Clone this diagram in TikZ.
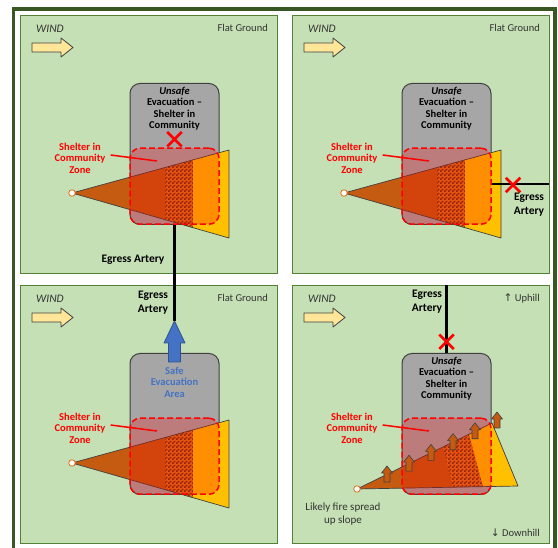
\documentclass[tikz,border=0pt]{standalone}
\usepackage{fontspec}
\setmainfont{Carlito}
\newfontfamily\arrowfont{DejaVu Sans}
\usetikzlibrary{positioning,patterns,shapes.misc}

\definecolor{panelfill}{HTML}{C5E0B4}
\definecolor{paneledge}{HTML}{548235}
\definecolor{framegreen}{HTML}{385723}
\definecolor{boxgray}{HTML}{A6A6A6}
\definecolor{boxedge}{HTML}{404040}
\definecolor{windfill}{HTML}{FFE699}
\definecolor{firebrown}{HTML}{C55A11}
\definecolor{fireorange}{HTML}{E0701A}
\definecolor{firedark}{HTML}{6B2E08}
\definecolor{fireyellow}{HTML}{FFC000}
\definecolor{safeblue}{HTML}{4472C4}
\definecolor{safeedge}{HTML}{2F528F}
\definecolor{labelgray}{HTML}{333333}

\pgfdeclarepatternformonly{smallchecker}{\pgfpointorigin}{\pgfqpoint{4pt}{4pt}}{\pgfqpoint{4pt}{4pt}}{%
  \pgfpathrectangle{\pgfpointorigin}{\pgfqpoint{2pt}{2pt}}%
  \pgfpathrectangle{\pgfqpoint{2pt}{2pt}}{\pgfqpoint{2pt}{2pt}}%
  \pgfusepath{fill}}

\tikzset{
  panel/.style={draw=paneledge,fill=panelfill,line width=1pt,anchor=north west,
    minimum width=257pt,minimum height=258pt,inner sep=0pt},
  windarrow/.style={draw=boxedge,fill=windfill,line width=0.8pt,line join=round},
  windlabel/.style={font=\fontsize{11.5}{12}\selectfont\itshape,text=labelgray},
  terrain/.style={font=\fontsize{10.5}{12}\selectfont,text=labelgray,anchor=east,inner sep=0pt},
  community/.style={draw=boxedge,fill=boxgray,line width=1pt,rounded corners=10pt,
    minimum width=89pt,minimum height=141pt,anchor=north,inner sep=0pt},
  boxtext/.style={font=\fontsize{10.5}{11.5}\selectfont\bfseries,align=center,inner sep=0pt},
  zone/.style={draw=red,fill=red,fill opacity=0.25,dash pattern=on 6pt off 3pt,line width=1.5pt,
    rounded corners=10pt,minimum width=89pt,minimum height=76pt,anchor=south,inner sep=0pt},
  zonetext/.style={font=\fontsize{10.5}{11.5}\selectfont\bfseries,text=red,align=center,inner sep=0pt},
  pointer/.style={draw=red,line width=1.5pt},
  egress/.style={draw=black,line width=2.2pt},
  egresstext/.style={font=\fontsize{11.5}{14}\selectfont\bfseries,align=center,inner sep=0pt},
  blocked/.style={cross out,draw=red,line width=2.5pt,minimum size=12pt,inner sep=0pt},
  fireedge/.style={draw=boxedge,line width=0.7pt,line join=round},
  ignition/.style={circle,draw=fireorange,fill=white,line width=0.8pt,minimum size=6.5pt,inner sep=0pt},
  checker/.style={fill=fireorange,postaction={pattern=smallchecker,pattern color=firedark}},
  uparrow/.style={draw=boxedge,fill=firebrown,line width=0.6pt,line join=round},
}

\begin{document}
\begin{tikzpicture}[x=1pt,y=-1pt]
  \useasboundingbox (0,0) rectangle (558,548);
  \fill[white] (0,0) rectangle (558,548);
  \draw[framegreen,line width=3.5pt] (13.5,9) rectangle (555,551);

  % four panels with wind and community block
  \foreach \i/\dx/\dy in {1/20/15,2/292/15,3/20/285,4/292/285}{
    \begin{scope}[shift={(\dx,\dy)}]
      \node[panel] (panel\i) at (0,0) {};
      \node[windlabel] (wind\i) at (30,14) {WIND};
      \draw[windarrow] (12,28) -- (41,28) -- (41,23) -- (53,32.5) -- (41,42) -- (41,37) -- (12,37) -- cycle;
      \node[community] (box\i) at (154.5,68) {};
    \end{scope}
  }

  % fire on flat ground
  \foreach \i/\dx/\dy in {1/20/15,2/292/15,3/20/285}{
    \begin{scope}[shift={(\dx,\dy)}]
      \coordinate (apex\i) at (52,178);
      \begin{scope}
        \clip (52,178) -- (209,135) -- (209,223) -- cycle;
        \fill[firebrown] (50,120) rectangle (145,240);
        \fill[checker] (145,120) rectangle (173,240);
        \fill[fireyellow] (173,120) rectangle (212,240);
      \end{scope}
      \draw[fireedge] (52,178) -- (209,135) -- (209,223) -- cycle;
      \node[ignition] (spark\i) at (apex\i) {};
      \node[terrain] (ground\i) at (248,13) {Flat Ground};
    \end{scope}
  }

  % fire running up the slope
  \begin{scope}[shift={(292,285)}]
    \coordinate (apex4) at (65,204);
    \begin{scope}
      \clip (65,204) -- (200,138) -- (226,201) -- cycle;
      \fill[firebrown] (60,100) rectangle (240,230);
      \fill[checker] (135.6,100) -- (163.9,100) -- (198.6,230) -- (167.9,230) -- cycle;
      \fill[fireyellow] (163.9,100) -- (240,100) -- (240,230) -- (198.6,230) -- cycle;
    \end{scope}
    \draw[fireedge] (65,204) -- (200,138) -- (226,201) -- cycle;
    \node[ignition] (spark4) at (apex4) {};
    \node[terrain] (uphill) at (248,14) {{\arrowfont ↑} Uphill};
    \node[terrain] (downhill) at (248,248) {{\arrowfont ↓} Downhill};
    \node[font=\fontsize{11}{13}\selectfont,text=labelgray,align=center,inner sep=0pt] (slope) at (51,229) {Likely fire spread\\up slope};
  \end{scope}

  % shelter in community zones
  \foreach \i/\dx/\dy in {1/20/15,2/292/15,3/20/285,4/292/285}{
    \node[zone] (zone\i) at (box\i.south) {};
    \begin{scope}[shift={(\dx,\dy)}]
      \node[zonetext] (shelter\i) at (60,143) {Shelter in\\Community\\Zone};
      \coordinate (zonept\i) at (137,146);
      \draw[pointer] ([xshift=5pt,yshift=3pt]shelter\i.east) -- (zonept\i);
    \end{scope}
  }

  \foreach \i in {1,2,4}
    \node[boxtext,below=4pt of box\i.north] (unsafe\i) {\textit{Unsafe}\\Evacuation --\\Shelter in\\Community};
  \node[boxtext,text=safeblue,below=14pt of box3.north] (safe3) {Safe\\Evacuation\\Area};

  \begin{scope}[shift={(292,285)}]
    \foreach \k in {0,...,5}
      \draw[uparrow,shift={({95+22*\k},{181-10.8*\k})}] (0,0) -- (5.5,7) -- (3,7) -- (3,16) -- (-3,16) -- (-3,7) -- (-5.5,7) -- cycle;
  \end{scope}

  % egress arteries
  \node[blocked,above=1pt of zone1.north] (cut1) {};
  \begin{scope}[shift={(20,15)}]
    \node[egresstext] (artery1) at (113,245) {Egress Artery};
  \end{scope}

  \begin{scope}[shift={(20,285)}]
    \coordinate (safetip) at (154.5,36);
    \draw[fill=safeblue,draw=safeedge,line width=0.8pt,line join=round] (safetip) -- (165,58) -- (160.5,58) -- (160.5,77) -- (148.5,77) -- (148.5,58) -- (144,58) -- cycle;
    \node[egresstext] (artery3) at (133,18) {Egress\\Artery};
  \end{scope}
  \draw[egress] (box1.south) -- (safetip);

  \begin{scope}[shift={(292,15)}]
    \coordinate (exit2) at (257,169);
    \draw[egress] (exit2 -| box2.east) -- (exit2);
    \node[blocked] (cut2) at (221,170) {};
    \node[egresstext] (artery2) at (237,190) {Egress\\Artery};
  \end{scope}

  \begin{scope}[shift={(292,285)}]
    \draw[egress] (box4.north |- panel4.north) -- (box4.north);
    \node[blocked,above=4pt of box4.north] (cut4) {};
    \node[egresstext] (artery4) at (135,17) {Egress\\Artery};
  \end{scope}
\end{tikzpicture}
\end{document}
